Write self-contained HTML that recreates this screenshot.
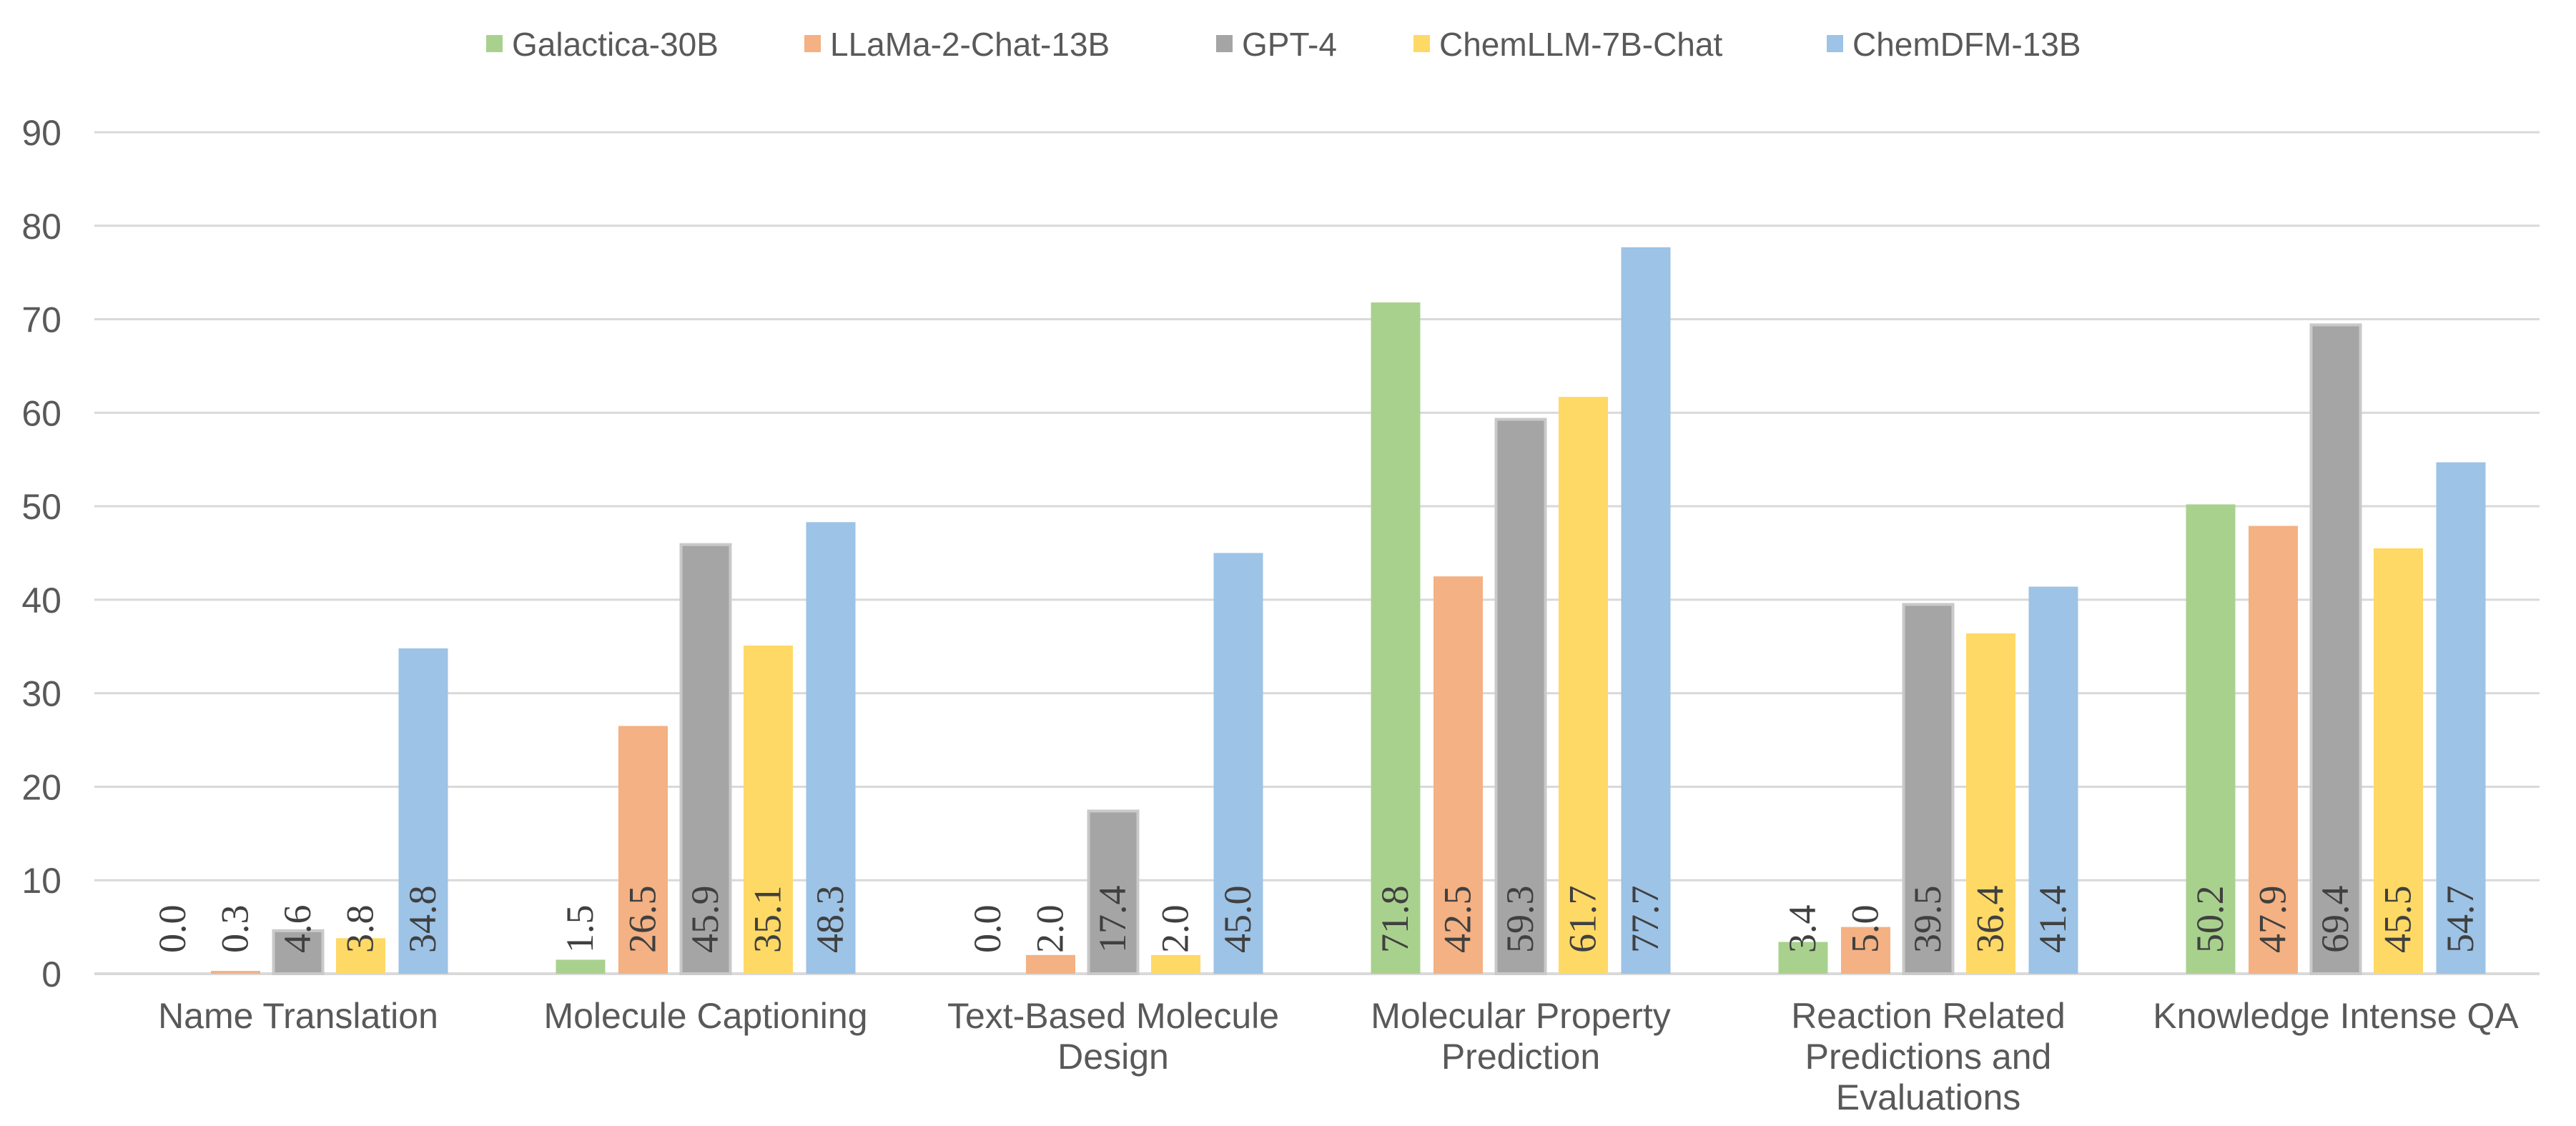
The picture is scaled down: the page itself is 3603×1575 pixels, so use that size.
<!DOCTYPE html>
<html><head><meta charset="utf-8"><style>
html,body{margin:0;padding:0;background:#fff;}
svg text{font-family:"Liberation Sans",sans-serif;}
</style></head><body>
<svg id="chart" width="3603" height="1570" xmlns="http://www.w3.org/2000/svg"></svg>
<script>
const categories = [["Name Translation"],["Molecule Captioning"],["Text-Based Molecule","Design"],["Molecular Property","Prediction"],["Reaction Related","Predictions and","Evaluations"],["Knowledge Intense QA"]];
const seriesNames = ["Galactica-30B","LLaMa-2-Chat-13B","GPT-4","ChemLLM-7B-Chat","ChemDFM-13B"];
const galactica = [0.0,1.5,0.0,71.8,3.4,50.2];
const llama = [0.3,26.5,2.0,42.5,5.0,47.9];
const gpt4 = [4.6,45.9,17.4,59.3,39.5,69.4];
const chemllm = [3.8,35.1,2.0,61.7,36.4,45.5];
const chemdfm = [34.8,48.3,45.0,77.7,41.4,54.7];
const yTicks = [0,10,20,30,40,50,60,70,80,90];

const series = [galactica, llama, gpt4, chemllm, chemdfm];
const colors = ["#A9D18E","#F4B183","#A5A5A5","#FFD966","#9DC3E6"];
const legendX = [680,1125,1701,1977,2555];
const svg = document.getElementById('chart');
const NS = "http://www.w3.org/2000/svg";
const L=132, R=3552, Y0=1362, Y90=185;
const y = v => Y0 - (v/90)*(Y0-Y90);
const catW = (R-L)/categories.length;
const pitch = 87.5, bw = 69;
const xBar = (c,s) => L + catW*(c+0.5) + (s-2)*pitch - bw/2;
function mk(tag, attrs){const e=document.createElementNS(NS,tag);for(const k in attrs)e.setAttribute(k,attrs[k]);svg.appendChild(e);return e;}

yTicks.forEach(t=>{
  const g = mk('line',{x1:L,x2:R,y1:y(t),y2:y(t),stroke:'#d9d9d9','stroke-width':t===0?4:3});
  
  
  const tx = mk('text',{x:86,y:y(t)+18,'text-anchor':'end','font-size':50,fill:'#595959'});
  tx.textContent = t;
  
  
});

series.forEach((arr,s)=>{
  arr.forEach((v,c)=>{
    const x = xBar(c,s);
    const h = Y0 - y(v);
    const r = mk('rect',{x:x,y:y(v),width:bw,height:Math.max(h,0),fill:colors[s]});
    if(s===2){r.setAttribute('stroke','#c9c9c9');r.setAttribute('stroke-width',4);}
    
    
    const cx = x + bw/2 + 17;
    const t = mk('text',{x:cx,y:1333,transform:`rotate(-90 ${cx} 1333)`,'font-size':54,fill:'#404040'});
    t.style.fontFamily = '"Liberation Serif", serif';
    t.textContent = v.toFixed(1);
    
    
  });
});

categories.forEach((lines,c)=>{
  const cx = L + catW*(c+0.5);
  lines.forEach((ln,i)=>{
    const t = mk('text',{x:cx,y:1438+i*57,'text-anchor':'middle','font-size':50,fill:'#595959'});
    t.textContent = ln;
    
    
  });
});

seriesNames.forEach((n,s)=>{
  const r = mk('rect',{x:legendX[s],y:49,width:23,height:24,fill:colors[s]});
  
  
  const t = mk('text',{x:legendX[s]+36,y:78,'font-size':46,fill:'#595959'});
  t.textContent = n;
  
  
});
</script>
</body></html>
